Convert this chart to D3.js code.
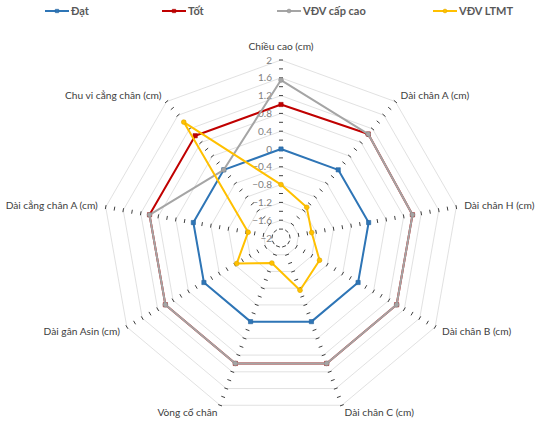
<!DOCTYPE html>
<html>
<head>
<meta charset="utf-8">
<script src="https://cdn.jsdelivr.net/npm/d3@7"></script>
<style>
  body { margin: 0; background: #fff; }
  svg { display: block; font-family: Lato, "Liberation Sans", sans-serif; }
</style>
</head>
<body>
<svg id="chart" width="541" height="427"></svg>
<script>
const categories = ["Chiều cao (cm)", "Dài chân A (cm)", "Dài chân H (cm)", "Dài chân B (cm)",
  "Dài chân C (cm)", "Vòng cổ chân", "Dài gân Asin (cm)", "Dài cẳng chân A (cm)", "Chu vi cẳng chân (cm)"];
const dat = [0, 0, 0, 0, 0, 0, 0, 0, 0];
const tot = [1.0, 1.05, 1.0, 1.0, 1.0, 1.0, 1.0, 1.0, 1.0];
const capCao = [1.55, 1.05, 1.0, 1.0, 1.0, 1.0, 1.0, 1.0, 0];
const ltmt = [-0.8, -1.1, -1.3, -1.0, -0.75, -1.4, -0.85, -1.25, 1.4];
const tickLabels = [2, 1.6, 1.2, 0.8, 0.4, 0, -0.4, -0.8, -1.2, -1.6, -2];

const series = [
  { name: "Đạt", values: dat, color: "#2e75b6", marker: "square" },
  { name: "Tốt", values: tot, color: "#c00000", marker: "square" },
  { name: "VĐV cấp cao", values: capCao, color: "#a5a5a5", marker: "circle" },
  { name: "VĐV LTMT", values: ltmt, color: "#ffc000", marker: "circle" }
];

const svg = d3.select("#chart");
const cx = 281, cy = 238, R = 178;

const r = d3.scaleLinear().domain([-2, 2]).range([0, R]);
const angle = d3.scaleLinear().domain([0, categories.length]).range([0, 2 * Math.PI]);
const pt = (i, v) => [cx + r(v) * Math.sin(angle(i)), cy - r(v) * Math.cos(angle(i))];

// gridlines every 0.4
const grid = svg.append("g");
d3.range(-1.6, 2.01, 0.4).forEach(v => {
  grid.append("polygon")
    .attr("points", categories.map((c, i) => pt(i, v).join(",")).join(" "))
    .attr("fill", "none")
    .attr("stroke", "#d9d9d9")
    .attr("stroke-width", 0.8);
});

// tick marks along each spoke
const ticks = svg.append("g").attr("stroke", "#404040").attr("stroke-width", 1);
categories.forEach((c, i) => {
  const a = angle(i);
  const px = Math.cos(a), py = Math.sin(a);
  d3.range(-1.8, 2.01, 0.2).forEach(v => {
    const [x, y] = pt(i, v);
    ticks.append("line")
      .attr("x1", x - px * 2).attr("y1", y - py * 2)
      .attr("x2", x + px * 2).attr("y2", y + py * 2);
  });
});

// value labels on first axis
svg.append("g").selectAll("text")
  .data(tickLabels)
  .join("text")
  .attr("x", cx - 9)
  .attr("y", d => cy - r(d))
  .attr("dy", "0.35em")
  .attr("text-anchor", "end")
  .attr("font-size", 10)
  .attr("fill", "#7f7f7f")
  .text(d => d3.format("")(d));

// category labels
svg.append("g").selectAll("text")
  .data(categories)
  .join("text")
  .attr("x", (d, i) => cx + (R + 8) * Math.sin(angle(i)))
  .attr("y", (d, i) => cy - (R + 8) * Math.cos(angle(i)) - (i === 0 ? 6 : 0))
  .attr("dy", "0.35em")
  .attr("text-anchor", (d, i) => {
    const s = Math.sin(angle(i));
    return Math.abs(s) < 0.01 ? "middle" : s > 0 ? "start" : "end";
  })
  .attr("font-size", 10.2)
  .attr("fill", "#404040")
  .text(d => d);

// series
const line = d3.line().curve(d3.curveLinearClosed);
const sg = svg.append("g").selectAll("g").data(series).join("g");
sg.append("path")
  .attr("d", s => line(s.values.map((v, i) => pt(i, v))))
  .attr("fill", "none")
  .attr("stroke", s => s.color)
  .attr("stroke-width", 2)
  .attr("stroke-linejoin", "round");
sg.each(function(s) {
  d3.select(this).selectAll("path.m")
    .data(s.values)
    .join("path")
    .attr("class", "m")
    .attr("transform", (v, i) => `translate(${pt(i, v)})`)
    .attr("d", d3.symbol(s.marker === "square" ? d3.symbolSquare : d3.symbolCircle, 18))
    .attr("fill", s.color)
    .attr("stroke", d3.color(s.color).darker(0.4))
    .attr("stroke-width", 0.6);
});

// legend
const legendX = [45, 162, 277, 433];
const lg = svg.append("g").selectAll("g").data(series).join("g")
  .attr("transform", (s, i) => `translate(${legendX[i]},11)`);
lg.append("line").attr("x1", 0).attr("x2", 24)
  .attr("stroke", s => s.color).attr("stroke-width", 2);
lg.append("path")
  .attr("transform", "translate(12,0)")
  .attr("d", s => d3.symbol(s.marker === "square" ? d3.symbolSquare : d3.symbolCircle, 12)())
  .attr("fill", s => s.color)
  .attr("stroke", s => d3.color(s.color).darker(0.4))
  .attr("stroke-width", 0.5);
lg.append("text")
  .attr("x", 26).attr("dy", "0.35em")
  .attr("font-size", 11)
  .attr("font-weight", "bold")
  .attr("fill", "#595959")
  .text(s => s.name);
</script>
</body>
</html>
